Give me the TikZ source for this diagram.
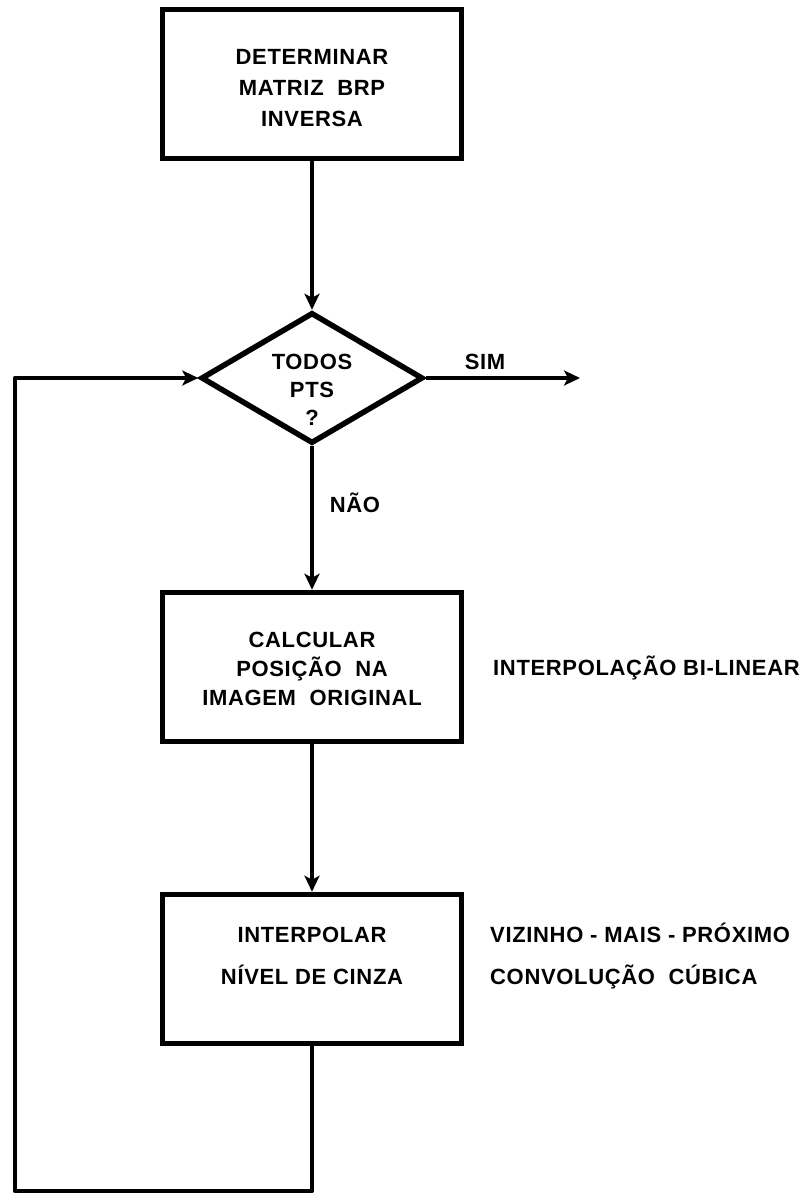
\documentclass[tikz,border=0pt]{standalone}
\usepackage{fontspec}
\setmainfont{Liberation Sans}[LetterSpace=3]
\usetikzlibrary{shapes.geometric,arrows.meta}
\begin{document}
\begin{tikzpicture}[x=1pt,y=-1pt,
  every node/.style={font=\fontsize{22}{30}\selectfont\bfseries},
  box/.style={draw, line width=5.5pt, minimum width=299pt, minimum height=149pt, inner sep=0pt},
  dia/.style={draw, diamond, line width=5.5pt, minimum width=222pt, minimum height=131pt, inner sep=0pt},
  lbl/.style={align=center, inner sep=0pt},
  conn/.style={line width=4.5pt, -{Stealth[length=16pt,width=15pt,inset=4pt]}, line join=round},
]
\useasboundingbox (0,0) rectangle (806,1196);

\node[box] (b1) at (312,84) {};
\node[lbl, font=\fontsize{22}{31}\selectfont\bfseries] (t1) at (312,88) {DETERMINAR\\MATRIZ~ BRP\\INVERSA};
\node[dia] (d) at (312,378) {};
\node[lbl, font=\fontsize{22}{28}\selectfont\bfseries] (dt) at (312,390) {TODOS\\PTS\\?};
\node[box] (b2) at (312,667) {};
\node[lbl, font=\fontsize{22}{29}\selectfont\bfseries] (t2) at (312,669) {CALCULAR\\POSIÇÃO~ NA\\IMAGEM~ ORIGINAL};
\node[box] (b3) at (312,969) {};
\node[lbl, font=\fontsize{22}{42}\selectfont\bfseries] (t3) at (312,956) {INTERPOLAR\\NÍVEL DE CINZA};

\node[inner sep=0pt] (sim) at (485,362) {SIM};
\node[inner sep=0pt] (nao) at (355,503) {NÃO};
\node[anchor=west, inner sep=0pt] (r1) at (493,668) {INTERPOLAÇÃO BI-LINEAR};
\node[anchor=west, inner sep=0pt, align=left, font=\fontsize{22}{42}\selectfont\bfseries] (r2) at (490,956) {VIZINHO - MAIS - PRÓXIMO\\CONVOLUÇÃO~ CÚBICA};

\coordinate (simend) at (580,378);
\coordinate (l1) at (312,1191);
\coordinate (l2) at (15,1191);
\coordinate (l3) at (15,378);

\draw[conn] (b1.south) -- (d.north);
\draw[conn] (d.east) -- (simend);
\draw[conn] (d.south) -- (b2.north);
\draw[conn] (b2.south) -- (b3.north);
\draw[conn] (b3.south) -- (l1) -- (l2) -- (l3) -- (d.west);
\end{tikzpicture}
\end{document}
